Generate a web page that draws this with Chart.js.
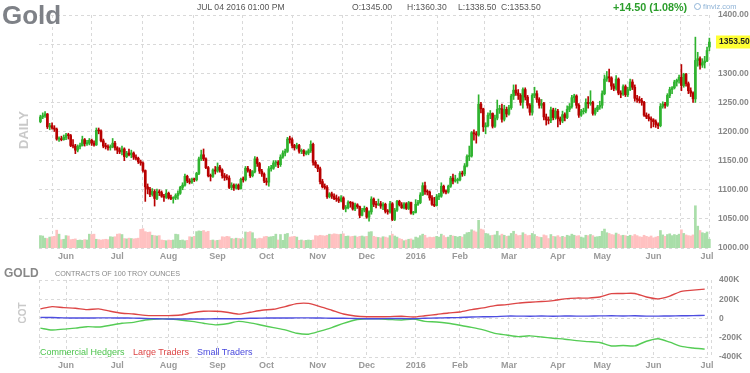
<!DOCTYPE html>
<html><head><meta charset="utf-8">
<script src="https://cdn.jsdelivr.net/npm/chart.js@4.4.1/dist/chart.umd.min.js"></script>
<style>
html,body{margin:0;padding:0;background:#fff}
body{width:750px;height:373px;overflow:hidden;position:relative;font-family:"Liberation Sans",Arial,sans-serif}
canvas{position:absolute;left:0}
.t{position:absolute;white-space:nowrap;line-height:1}
</style></head><body>
<canvas id="price" width="750" height="262" style="top:0"></canvas>
<canvas id="cot" width="750" height="111" style="top:262px"></canvas>
<div class="t" style="left:2px;top:2px;font-size:26px;font-weight:bold;color:#7e8187">Gold</div>
<div class="t" style="left:197px;top:3px;font-size:8.6px;color:#555">JUL 04 2016 01:00 PM</div>
<div class="t" style="left:352px;top:3px;font-size:8.6px;color:#555">O:1345.00</div>
<div class="t" style="left:407px;top:3px;font-size:8.6px;color:#555">H:1360.30</div>
<div class="t" style="left:458px;top:3px;font-size:8.6px;color:#555">L:1338.50</div>
<div class="t" style="left:501px;top:3px;font-size:8.6px;color:#555">C:1353.50</div>
<div class="t" style="left:613px;top:2px;font-size:10.8px;font-weight:bold;color:#2c9e2c">+14.50 (1.08%)</div>
<div class="t" style="left:694px;top:3px;font-size:7.5px;color:#8fb3d6"><span style="display:inline-block;width:5px;height:5px;border:1px solid #8fb3d6;border-radius:50%;vertical-align:-1px"></span> finviz.com</div>
<div class="t" style="left:23px;top:130px;font-size:13px;font-weight:bold;color:#c9c9c9;transform:translate(-50%,-50%) rotate(-90deg)">DAILY</div>
<div class="t" style="left:23px;top:313px;font-size:10px;font-weight:bold;color:#c9c9c9;transform:translate(-50%,-50%) rotate(-90deg)">COT</div>
<div class="t" style="left:4px;top:267px;font-size:12px;font-weight:bold;color:#888">GOLD</div>
<div class="t" style="left:55px;top:270px;font-size:7.2px;color:#888">CONTRACTS OF 100 TROY OUNCES</div>
<div class="t" style="left:40px;top:348px;font-size:9px;color:#4dc44d">Commercial Hedgers</div>
<div class="t" style="left:133px;top:348px;font-size:9px;color:#dd4444">Large Traders</div>
<div class="t" style="left:197px;top:348px;font-size:9px;color:#4848dd">Small Traders</div>
<script>
// ---- tick labels / categories ----
const monthTicks=[11,33,55,76,97,119,140,161,180,201,222,241,263,286];
const monthLabels=['Jun','Jul','Aug','Sep','Oct','Nov','Dec','2016','Feb','Mar','Apr','May','Jun','Jul'];
const priceTicks=[1000,1050,1100,1150,1200,1250,1300,1350,1400];
const cotTicks=[-400,-200,0,200,400];
const lastClose=1353.5;

// ---- daily OHLC (May 14 2015 .. Jul 4 2016) ----
const opens=[
1217,1225,1227,1230,1208,1210,1206,1204,1187,1187,
1186,1190,1194,1193,1176,1175,1168,1174,1176,1186,
1179,1180,1185,1180,1177,1202,1201,1184,1175,1174,
1172,1174,1180,1172,1168,1165,1170,1157,1163,1160,
1163,1156,1154,1148,1146,1133,1105,1101,1092,1097,
1085,1096,1095,1089,1087,1094,1086,1085,1086,1090,
1094,1104,1108,1123,1115,1113,1118,1117,1128,1153,
1160,1153,1138,1124,1123,1134,1132,1139,1134,1124,
1121,1120,1104,1108,1103,1108,1102,1118,1117,1137,
1133,1124,1131,1153,1145,1132,1127,1115,1113,1136,
1137,1146,1147,1143,1156,1163,1166,1187,1186,1176,
1172,1176,1166,1167,1162,1163,1167,1178,1147,1142,
1136,1114,1105,1104,1088,1093,1089,1085,1084,1081,
1086,1068,1069,1078,1077,1067,1074,1071,1056,1065,
1068,1053,1062,1084,1075,1074,1076,1072,1075,1063,
1062,1076,1049,1065,1080,1074,1069,1076,1068,1078,
1060,1061,1075,1078,1091,1107,1097,1096,1086,1075,
1073,1088,1089,1106,1097,1096,1106,1120,1115,1116,
1117,1128,1127,1141,1157,1158,1198,1196,1194,1247,
1239,1208,1210,1228,1231,1209,1223,1238,1239,1221,
1238,1230,1241,1261,1271,1266,1262,1250,1272,1259,
1245,1233,1262,1265,1255,1245,1248,1225,1220,1219,
1237,1224,1235,1222,1218,1229,1224,1238,1243,1258,
1261,1245,1228,1234,1235,1250,1248,1250,1231,1237,
1242,1245,1265,1290,1294,1292,1278,1274,1290,1266,
1264,1277,1263,1272,1285,1276,1257,1255,1253,1250,
1228,1225,1222,1220,1217,1212,1210,1243,1247,1245,
1262,1272,1275,1285,1288,1293,1279,1298,1282,1270,
1266,1256,1322,1325,1314,1318,1321,1345];
const highs=[
1228,1232,1234,1231,1214,1215,1210,1206,1191,1192,
1194,1197,1197,1195,1186,1178,1177,1180,1192,1188,
1185,1188,1187,1184,1206,1206,1203,1187,1180,1177,
1177,1188,1183,1174,1172,1175,1172,1166,1170,1168,
1165,1160,1156,1151,1148,1134,1110,1104,1102,1100,
1101,1100,1098,1092,1100,1096,1091,1088,1093,1098,
1106,1112,1127,1125,1119,1120,1120,1130,1156,1168,
1170,1155,1140,1127,1136,1140,1146,1142,1136,1128,
1126,1124,1112,1110,1110,1110,1120,1122,1140,1140,
1135,1133,1157,1156,1147,1135,1129,1120,1140,1142,
1150,1150,1150,1160,1167,1170,1190,1192,1189,1178,
1180,1178,1170,1169,1167,1170,1184,1180,1150,1143,
1139,1118,1110,1107,1095,1096,1093,1091,1088,1090,
1088,1073,1081,1080,1079,1077,1076,1072,1068,1072,
1070,1064,1088,1086,1080,1084,1080,1078,1077,1066,
1080,1078,1068,1082,1082,1078,1078,1078,1080,1079,
1063,1083,1082,1095,1112,1113,1100,1098,1090,1087,
1092,1094,1112,1108,1100,1108,1123,1127,1125,1120,
1131,1132,1145,1160,1175,1200,1203,1200,1263,1250,
1240,1215,1232,1236,1232,1228,1254,1245,1247,1245,
1242,1245,1264,1280,1280,1272,1265,1275,1275,1262,
1248,1265,1276,1270,1258,1255,1250,1230,1225,1242,
1240,1240,1238,1225,1235,1232,1244,1248,1262,1264,
1263,1248,1238,1240,1256,1260,1270,1252,1240,1245,
1252,1270,1297,1303,1307,1294,1282,1296,1292,1270,
1280,1280,1276,1290,1289,1280,1262,1260,1257,1252,
1232,1230,1225,1222,1220,1215,1248,1251,1250,1265,
1276,1277,1288,1290,1297,1315,1300,1300,1285,1275,
1268,1362,1336,1328,1325,1329,1345,1360.3];
const lows=[
1215,1222,1224,1205,1203,1204,1200,1185,1183,1184,
1185,1186,1187,1174,1172,1162,1165,1170,1175,1175,
1176,1177,1176,1175,1176,1196,1182,1172,1170,1168,
1168,1172,1168,1162,1162,1160,1150,1155,1158,1155,
1152,1151,1145,1142,1130,1080,1093,1088,1089,1072,
1083,1090,1087,1080,1085,1084,1083,1077,1083,1084,
1092,1100,1106,1112,1110,1111,1114,1115,1126,1150,
1150,1136,1122,1115,1121,1127,1130,1130,1120,1116,
1117,1102,1100,1099,1101,1100,1101,1113,1115,1130,
1121,1122,1129,1140,1128,1123,1112,1108,1106,1132,
1135,1140,1138,1140,1154,1158,1164,1180,1172,1168,
1170,1163,1162,1158,1160,1160,1164,1142,1138,1131,
1110,1103,1101,1085,1086,1085,1083,1080,1078,1079,
1066,1062,1067,1070,1065,1064,1068,1052,1055,1062,
1051,1046,1058,1071,1069,1073,1068,1066,1060,1058,
1060,1047,1047,1063,1072,1068,1067,1066,1066,1058,
1057,1060,1073,1076,1090,1092,1091,1082,1073,1071,
1072,1083,1087,1094,1093,1094,1104,1110,1113,1111,
1115,1123,1124,1139,1150,1156,1185,1180,1192,1232,
1200,1196,1208,1222,1206,1207,1220,1231,1216,1218,
1225,1228,1238,1255,1262,1255,1245,1240,1254,1240,
1228,1228,1258,1250,1240,1240,1220,1211,1213,1215,
1220,1221,1208,1212,1215,1218,1222,1234,1240,1250,
1240,1224,1226,1230,1232,1240,1245,1228,1228,1234,
1238,1240,1263,1286,1285,1272,1270,1271,1263,1258,
1262,1260,1260,1270,1272,1252,1250,1249,1245,1226,
1222,1218,1206,1208,1207,1205,1208,1240,1240,1243,
1258,1265,1273,1278,1283,1270,1276,1278,1265,1260,
1250,1250,1312,1307,1310,1309,1320,1338.5];
const closes=[
1225,1227,1230,1208,1210,1206,1204,1187,1187,1186,
1190,1194,1193,1176,1175,1168,1174,1176,1186,1179,
1180,1185,1180,1177,1202,1201,1184,1175,1174,1172,
1174,1180,1172,1168,1165,1170,1157,1163,1160,1163,
1156,1154,1148,1146,1133,1105,1101,1092,1097,1085,
1096,1095,1089,1087,1094,1086,1085,1086,1090,1094,
1104,1108,1123,1115,1113,1118,1117,1128,1153,1160,
1153,1138,1124,1123,1134,1132,1139,1134,1124,1121,
1120,1104,1108,1103,1108,1102,1118,1117,1137,1133,
1124,1131,1153,1145,1132,1127,1115,1113,1136,1137,
1146,1147,1143,1156,1163,1166,1187,1186,1176,1172,
1176,1166,1167,1162,1163,1167,1178,1147,1142,1136,
1114,1105,1104,1088,1093,1089,1085,1084,1081,1086,
1068,1069,1078,1077,1067,1074,1071,1056,1065,1068,
1053,1062,1084,1075,1074,1076,1072,1075,1063,1062,
1076,1049,1065,1080,1074,1069,1076,1068,1078,1060,
1061,1075,1078,1091,1107,1097,1096,1086,1075,1073,
1088,1089,1106,1097,1096,1106,1120,1115,1116,1117,
1128,1127,1141,1157,1158,1198,1196,1194,1247,1239,
1208,1210,1228,1231,1209,1223,1238,1239,1221,1238,
1230,1241,1261,1271,1266,1262,1250,1272,1259,1245,
1233,1262,1265,1255,1245,1248,1225,1220,1219,1237,
1224,1235,1222,1218,1229,1224,1238,1243,1258,1261,
1245,1228,1234,1235,1250,1248,1250,1231,1237,1242,
1245,1265,1290,1294,1292,1278,1274,1290,1266,1264,
1277,1263,1272,1285,1276,1257,1255,1253,1250,1228,
1225,1222,1220,1217,1212,1210,1243,1247,1245,1262,
1272,1275,1285,1288,1293,1279,1298,1282,1270,1266,
1256,1322,1325,1314,1318,1321,1339,1353.5];
// volume, thousands of contracts
const volumes=[
170,165,135,130,150,155,160,245,190,115,
120,170,165,115,120,125,105,110,105,115,
110,190,185,190,120,115,110,115,120,115,
155,150,155,190,195,185,130,125,135,130,
125,130,135,255,265,225,215,220,175,170,
165,170,110,105,100,110,105,110,190,185,
105,110,100,105,155,150,160,225,235,230,
240,220,230,105,110,100,105,110,155,150,
160,155,130,125,135,130,125,130,220,215,
225,210,130,125,135,130,155,160,150,155,
160,190,110,185,105,190,200,150,155,160,
150,105,110,100,105,110,105,110,170,165,
175,170,165,175,190,185,195,190,185,190,
195,160,165,155,160,165,150,160,165,155,
160,220,225,160,150,145,140,155,150,140,
170,190,165,150,130,120,100,110,120,125,
110,150,140,170,190,175,140,150,145,150,
160,150,190,170,145,150,175,165,160,150,
160,150,185,210,215,250,235,220,380,260,
250,200,195,170,175,180,230,170,190,175,
160,165,200,230,190,170,175,210,190,170,
175,200,185,160,150,145,180,170,130,185,
160,155,170,150,160,150,175,165,190,175,
165,170,150,140,175,170,185,170,150,155,
160,230,260,210,200,185,180,205,190,170,
175,170,160,175,165,185,170,155,150,175,
160,150,165,140,150,160,240,180,160,185,
195,170,185,175,190,250,200,180,170,165,
180,580,300,240,210,200,220,120];

// ---- COT weekly net positions (thousands of contracts) ----
const cotDays=[0,5,10,15,20,25,30,35,40,45,50,55,60,65,70,75,80,85,90,95,100,105,110,115,120,125,130,135,140,145,150,155,160,165,170,175,180,185,190,195,200,205,210,215,220,225,230,235,240,245,250,255,260,265,270,275,280,285];
const commercialHedgers=[-100,-120,-110,-100,-85,-88,-70,-50,-40,-15,-5,-5,-15,-30,-50,-66,-55,-30,-45,-70,-95,-118,-153,-163,-131,-95,-50,-15,-3,-3,-10,-15,-5,-30,-36,-50,-70,-92,-118,-155,-172,-188,-180,-192,-205,-215,-230,-240,-250,-285,-280,-285,-236,-210,-246,-290,-306,-318];
const largeTraders=[100,123,113,107,92,100,75,55,47,32,30,30,36,60,75,75,65,45,65,86,96,124,155,157,124,86,47,26,18,18,20,24,15,28,42,57,68,92,110,134,144,160,169,176,186,204,212,212,223,258,260,260,223,204,233,282,295,305];
const smallTraders=[12,10,6,5,5,6,6,5,4,0,-3,-5,-5,-5,-5,-3,-2,-3,2,4,5,5,6,6,5,3,2,0,-2,-2,0,0,-2,3,5,8,10,15,18,20,25,25,24,26,24,26,25,25,27,28,26,28,25,25,26,28,30,32];

// ---- styling ----
const FONT='"Liberation Sans", Arial, sans-serif';
const GRID='#d9d9d9';
const X_MIN=-0.6, X_MAX=287.7;
const upC='#2fb32f', dnC='#b80000', upV='#a9dea9', dnV='#ffc1c1';

function xScale(h){return {
  type:'linear',min:X_MIN,max:X_MAX,offset:false,bounds:'data',
  afterBuildTicks:s=>{s.ticks=[X_MIN,...monthTicks,X_MAX].map(v=>({value:v}));},
  afterFit:s=>{s.height=h;},
  ticks:{autoSkip:false,maxRotation:0,minRotation:0,padding:3,color:'#9a9a9a',
    font:{family:FONT,size:9,weight:'bold'},
    callback:v=>{const k=monthTicks.indexOf(v);return k<0?'':monthLabels[k];}},
  grid:{color:GRID,drawTicks:false,lineWidth:1},
  border:{display:false,dash:[3,3]}
};}

const idx=closes.map((_,i)=>i);
const up=i=>closes[i]>=opens[i];

const lastPricePlugin={id:'lastPrice',afterDraw(chart){
  const y=chart.scales.y.getPixelForValue(lastClose);
  const ctx=chart.ctx;ctx.save();
  ctx.fillStyle='#ffff33';ctx.fillRect(716,Math.round(y)-6.5,34,13);
  ctx.fillStyle='#222';ctx.font='bold 8.5px '+FONT;ctx.textBaseline='middle';ctx.textAlign='left';
  ctx.fillText(lastClose.toFixed(2),719,y);ctx.restore();
}};

new Chart(document.getElementById('price'),{
  type:'bar',
  data:{datasets:[
    {label:'Volume',yAxisID:'yv',data:idx.map(i=>({x:i,y:volumes[i]})),
     backgroundColor:idx.map(i=>up(i)?upV:dnV),barThickness:2,grouped:false,order:3},
    {label:'Range',yAxisID:'y',data:idx.map(i=>({x:i,y:[lows[i],highs[i]]})),
     backgroundColor:idx.map(i=>up(i)?upC:dnC),barThickness:1,grouped:false,order:2},
    {label:'Body',yAxisID:'y',data:idx.map(i=>({x:i,y:[opens[i],closes[i]]})),
     backgroundColor:idx.map(i=>up(i)?upC:dnC),barThickness:2,minBarLength:1,grouped:false,order:1}
  ]},
  options:{responsive:false,animation:false,events:[],
    layout:{padding:{left:39,top:15,right:0,bottom:0}},
    plugins:{legend:{display:false},tooltip:{enabled:false}},
    scales:{
      x:xScale(14),
      y:{position:'right',min:1000,max:1400,
        afterBuildTicks:s=>{s.ticks=priceTicks.map(v=>({value:v}));},
        afterFit:s=>{s.width=39;},
        ticks:{padding:7,color:'#888',font:{family:FONT,size:8.5,weight:'bold'},
          callback:v=>v===1350?'':v.toFixed(2)},
        grid:{color:GRID,drawTicks:false},border:{display:false,dash:[3,3]}},
      yv:{display:false,min:0,max:3200}
    }},
  plugins:[lastPricePlugin]
});

const line=(label,vals,color)=>({label,data:cotDays.map((d,i)=>({x:d,y:vals[i]})),
  borderColor:color,borderWidth:1.4,pointRadius:0,tension:0.25,fill:false});

new Chart(document.getElementById('cot'),{
  type:'line',
  data:{datasets:[
    line('Small Traders',smallTraders,'#4d4de0'),
    line('Large Traders',largeTraders,'#dd4646'),
    line('Commercial Hedgers',commercialHedgers,'#55cc55')
  ]},
  options:{responsive:false,animation:false,events:[],
    layout:{padding:{left:39,top:18,right:0,bottom:0}},
    plugins:{legend:{display:false},tooltip:{enabled:false}},
    scales:{
      x:xScale(16),
      y:{position:'right',min:-400,max:400,
        afterBuildTicks:s=>{s.ticks=cotTicks.map(v=>({value:v}));},
        afterFit:s=>{s.width=39;},
        ticks:{padding:8,color:'#888',font:{family:FONT,size:8.5,weight:'bold'},
          callback:v=>v===0?'0':v+'K'},
        grid:{color:GRID,drawTicks:false},border:{display:false,dash:[3,3]}}
    }}
});
</script>
</body></html>
